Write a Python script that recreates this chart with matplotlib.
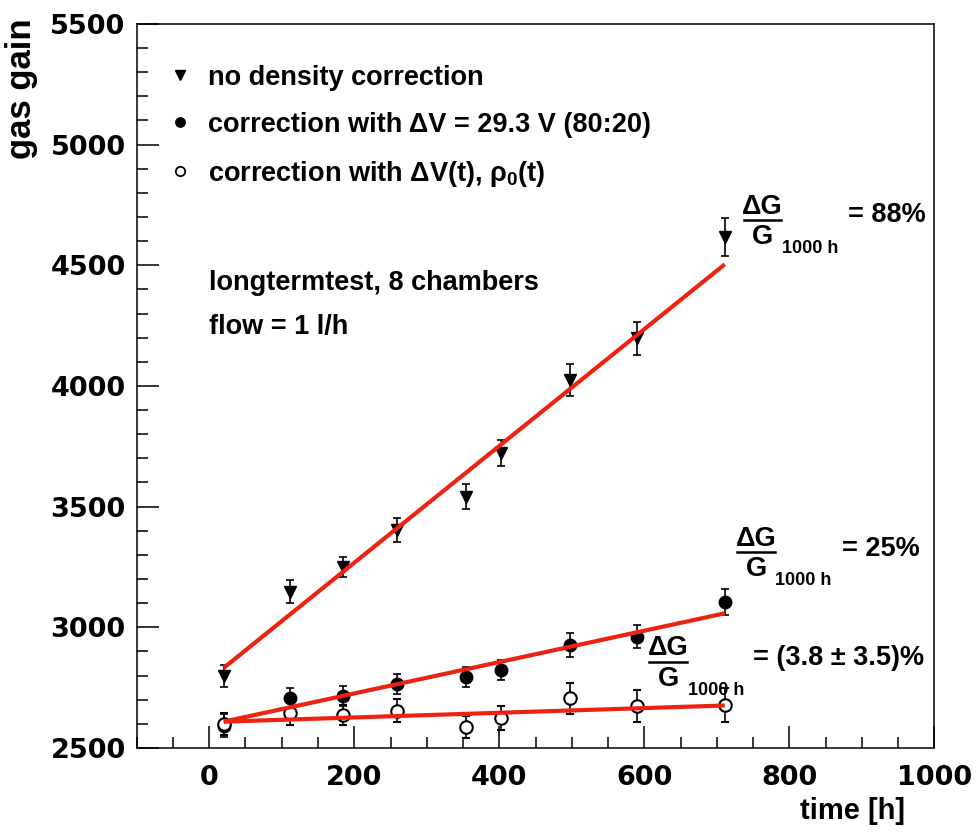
import numpy as np
import matplotlib.pyplot as plt
from matplotlib.lines import Line2D
from matplotlib.ticker import MultipleLocator

plt.rcParams['font.family'] = ['Liberation Sans', 'DejaVu Sans']
plt.rcParams['font.weight'] = 'bold'
plt.rcParams['mathtext.fontset'] = 'custom'
plt.rcParams['mathtext.rm'] = 'Liberation Sans:bold'
plt.rcParams['mathtext.it'] = 'Liberation Sans:bold'
plt.rcParams['mathtext.bf'] = 'Liberation Sans:bold'

# measurement times [h]
t_meas = np.array([20, 111, 184, 259, 354, 403, 497, 590, 711])

# no density correction
gain_raw = np.array([2797, 3148, 3249, 3403, 3541, 3722, 4025, 4198, 4619])
err_raw = np.array([46, 48, 41, 48, 51, 53, 66, 69, 79])

# correction with dV = 29.3 V
gain_dv = np.array([2593, 2706, 2715, 2765, 2795, 2823, 2927, 2961, 3106])
err_dv = np.array([47, 44, 40, 40, 42, 40, 50, 48, 54])

# correction with dV(t), rho0(t)
gain_dvt = np.array([2600, 2644, 2637, 2655, 2588, 2623, 2706, 2674, 2678])
err_dvt = np.array([45, 48, 40, 48, 46, 50, 65, 68, 70])

# linear fits, value at first and last time
fit_t = np.array([20, 711])
fit_raw = np.array([2832, 4504])
fit_dv = np.array([2609, 3058])
fit_dvt = np.array([2609, 2676])

labels = ['no density correction',
          'correction with \u0394V = 29.3 V (80:20)',
          'correction with \u0394V(t), $\\rho_0$(t)']
results = ['= 88%', '= 25%', '= (3.8 \u00b1 3.5)%']

red = '#ee2211'
fs = 19.5

fig = plt.figure(figsize=(9.76, 8.32), dpi=100)
ax = fig.add_axes([0.1401, 0.1010, 0.8172, 0.8702])

ebkw = dict(linestyle='none', color='black', ecolor='black', elinewidth=1.2,
            capsize=2.6, capthick=1.2, zorder=3)
ax.errorbar(t_meas, gain_raw, yerr=err_raw, marker='v', markersize=9,
            **ebkw)
ax.errorbar(t_meas, gain_dv, yerr=err_dv, marker='o', markersize=9,
            **ebkw)
ax.errorbar(t_meas, gain_dvt, yerr=err_dvt, marker='o', markersize=9,
            markerfacecolor='white', markeredgewidth=1.5, **ebkw)

for fit in [fit_raw, fit_dv, fit_dvt]:
    ax.plot(fit_t, fit, color=red, linewidth=3, solid_capstyle='butt', zorder=4)

ax.set_xlim(-100, 1000)
ax.set_ylim(2500, 5500)
ax.xaxis.set_major_locator(MultipleLocator(200))
ax.xaxis.set_minor_locator(MultipleLocator(50))
ax.yaxis.set_major_locator(MultipleLocator(500))
ax.yaxis.set_minor_locator(MultipleLocator(100))
ax.tick_params(which='both', direction='in', top=False, right=False, width=1.1)
ax.tick_params(which='major', length=16)
ax.tick_params(which='minor', length=8)
ax.tick_params(axis='y', pad=8)
ax.tick_params(axis='x', pad=12)
for lab in ax.get_xticklabels() + ax.get_yticklabels():
    lab.set_fontfamily('DejaVu Sans')
    lab.set_fontweight('bold')
    lab.set_fontsize(19.5)
for sp in ax.spines.values():
    sp.set_linewidth(1.1)

fig.text(21 / 976, 1 - 18 / 832, 'gas gain', rotation=90, ha='center', va='top',
         fontsize=25)
fig.text(905 / 976, 1 - 811 / 832, 'time [h]', ha='right', va='center',
         fontsize=21)

handles = [Line2D([], [], linestyle='none', marker='v', color='black', markersize=9),
           Line2D([], [], linestyle='none', marker='o', color='black', markersize=9),
           Line2D([], [], linestyle='none', marker='o', color='black', markersize=9,
                  markerfacecolor='white', markeredgewidth=1.3)]
ax.legend(handles, labels, loc='upper left', bbox_to_anchor=(0.037, 0.944),
          frameon=False, fontsize=fs, handlelength=1.0, handletextpad=0.54,
          labelspacing=0.78, borderpad=0, borderaxespad=0, markerscale=0.75)

ax.text(0, 4427, 'longtermtest, 8 chambers', fontsize=fs, va='center', ha='left')
ax.text(0, 4245, 'flow = 1 l/h', fontsize=fs, va='center', ha='left')


def gain_fraction(t, g):
    # dG / G_1000h drawn around the fraction bar at (t, g)
    ax.plot([t - 26, t + 26], [g, g], color='black', linewidth=1.8)
    ax.annotate('\u0394G', (t, g), xytext=(0, 9.5), textcoords='offset points',
                ha='center', va='center', fontsize=fs)
    ax.annotate('G', (t, g), xytext=(0, -12.5), textcoords='offset points',
                ha='center', va='center', fontsize=fs)
    ax.annotate('1000 h', (t, g), xytext=(14, -20.5), textcoords='offset points',
                ha='left', va='center', fontsize=13)


gain_fraction(763, 4688)
gain_fraction(754, 3313)
gain_fraction(633, 2858)
ax.text(881, 4709, results[0], fontsize=fs, va='center', ha='left')
ax.text(872, 3325, results[1], fontsize=fs, va='center', ha='left')
ax.text(750, 2873, results[2], fontsize=fs, va='center', ha='left')

plt.savefig('out.png', dpi=100)
